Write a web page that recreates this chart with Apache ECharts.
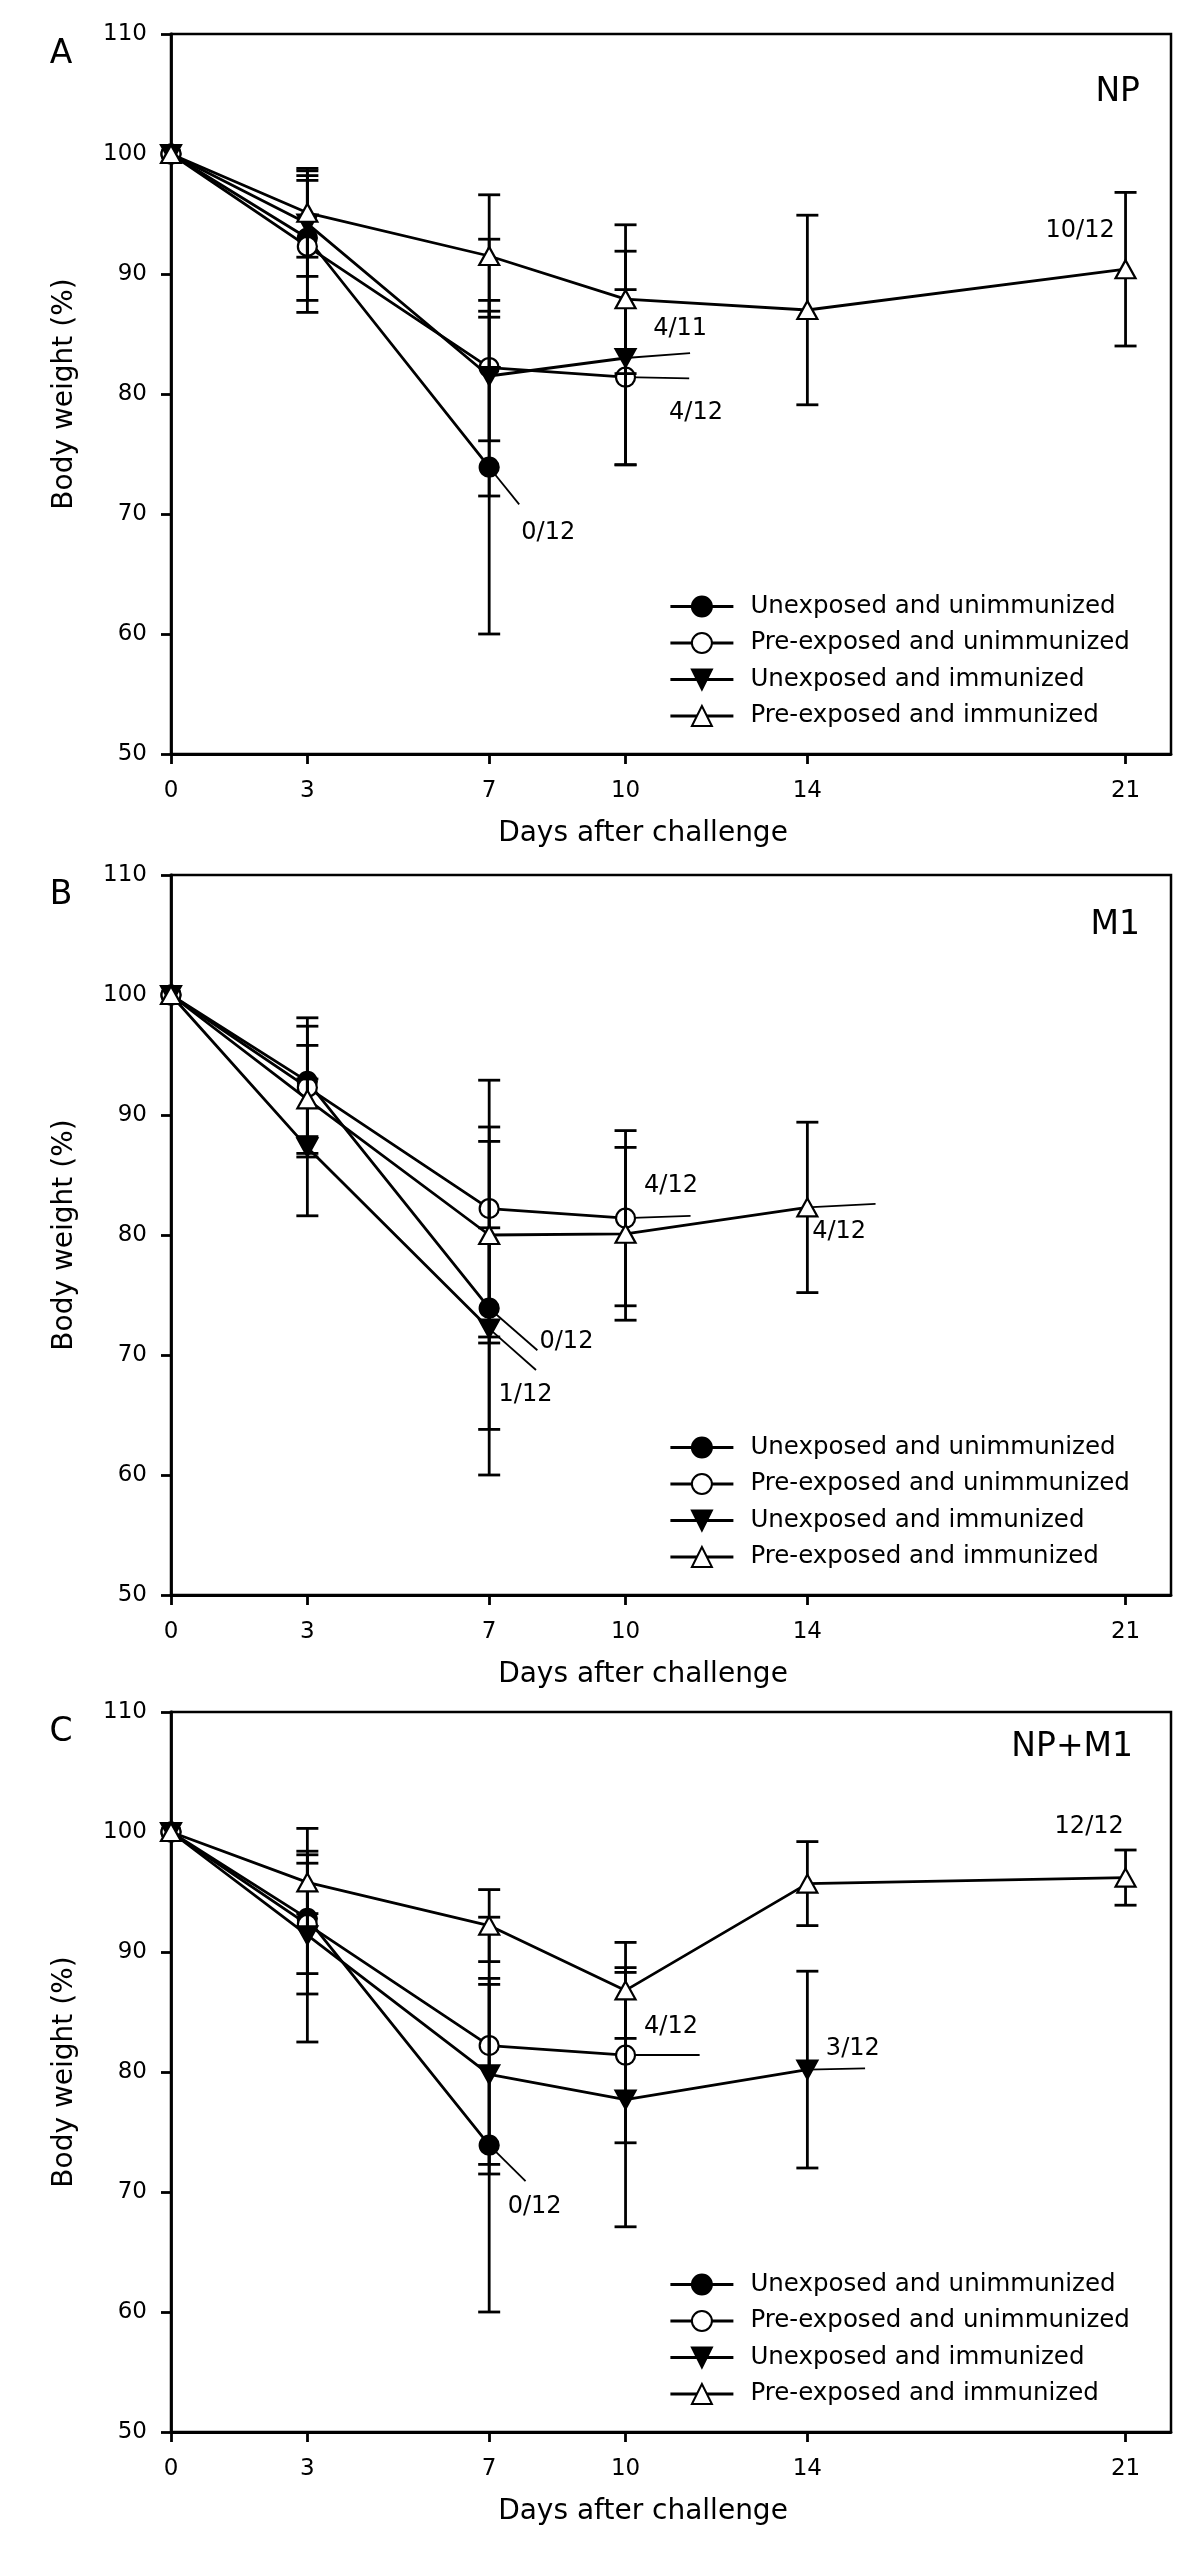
<!DOCTYPE html>
<html>
<head>
<meta charset="utf-8">
<script src="https://cdn.jsdelivr.net/npm/echarts@6/dist/echarts.min.js"></script>
<style>
  html, body { margin: 0; padding: 0; background: #fff; }
  #chart { width: 1200px; height: 2561px; }
</style>
</head>
<body>
<div id="chart"></div>
<script>
// ---------------- DATA ----------------
const days = [0, 3, 7, 10, 14, 21];
const xTickValues = [0, 3, 7, 10, 14, 21];
const groups = ['Unexposed and unimmunized', 'Pre-exposed and unimmunized', 'Unexposed and immunized', 'Pre-exposed and immunized'];
const panelNames = ['NP', 'M1', 'NP+M1'];
const panelLetters = ['A', 'B', 'C'];

// Panel A (NP): mean body weight (%) and SD
const npUnexpUnimm = [100, 93.0, 73.9];
const npUnexpUnimmSD = [0, 5.2, 13.9];
const npPreUnimm = [100, 92.3, 82.2, 81.4];
const npPreUnimmSD = [0, 5.5, 10.7, 7.3];
const npUnexpImm = [100, 94.2, 81.5, 83.0];
const npUnexpImmSD = [0, 4.4, 5.4, 8.9];
const npPreImm = [100, 95.1, 91.5, 87.9, 87.0, 90.4];
const npPreImmSD = [0, 3.7, 5.1, 6.2, 7.9, 6.4];
const npSurvival = ['0/12', '4/12', '4/11', '10/12'];

// Panel B (M1)
const m1UnexpUnimm = [100, 92.8, 73.9];
const m1UnexpUnimmSD = [0, 4.6, 13.9];
const m1PreUnimm = [100, 92.3, 82.2, 81.4];
const m1PreUnimmSD = [0, 5.8, 10.7, 7.3];
const m1UnexpImm = [100, 87.3, 72.2];
const m1UnexpImmSD = [0, 5.7, 8.4];
const m1PreImm = [100, 91.3, 80.0, 80.1, 82.3];
const m1PreImmSD = [0, 4.5, 9.0, 7.2, 7.1];
const m1Survival = ['0/12', '4/12', '1/12', '4/12'];

// Panel C (NP+M1)
const npm1UnexpUnimm = [100, 92.8, 73.9];
const npm1UnexpUnimmSD = [0, 4.6, 13.9];
const npm1PreUnimm = [100, 92.3, 82.2, 81.4];
const npm1PreUnimmSD = [0, 5.8, 10.7, 7.3];
const npm1UnexpImm = [100, 91.4, 79.8, 77.7, 80.2];
const npm1UnexpImmSD = [0, 8.9, 7.5, 10.6, 8.2];
const npm1PreImm = [100, 95.8, 92.2, 86.8, 95.7, 96.2];
const npm1PreImmSD = [0, 2.6, 3.0, 4.0, 3.5, 2.3];
const npm1Survival = ['0/12', '4/12', '3/12', '12/12'];

// ---------------- LAYOUT (annotation placement, in axis units) ----------------
const leaderEnds = [
  [[7.66, 70.8], [11.4, 81.3], [11.42, 83.4], null],
  [[8.06, 70.4], [11.43, 81.6], [8.03, 68.75], [15.5, 82.6]],
  [[7.8, 70.9], [11.63, 81.4], [15.27, 80.3], null]
];
const notePos = [
  [[8.3, 68.4], [11.55, 78.4], [11.2, 85.4], [20.0, 93.6]],
  [[8.7, 71.1], [11.0, 84.1], [7.8, 66.7], [14.7, 80.3]],
  [[8.0, 68.75], [11.0, 83.75], [15.0, 81.9], [20.2, 100.4]]
];

const panels = [
  { means: [npUnexpUnimm, npPreUnimm, npUnexpImm, npPreImm], sds: [npUnexpUnimmSD, npPreUnimmSD, npUnexpImmSD, npPreImmSD], surv: npSurvival },
  { means: [m1UnexpUnimm, m1PreUnimm, m1UnexpImm, m1PreImm], sds: [m1UnexpUnimmSD, m1PreUnimmSD, m1UnexpImmSD, m1PreImmSD], surv: m1Survival },
  { means: [npm1UnexpUnimm, npm1PreUnimm, npm1UnexpImm, npm1PreImm], sds: [npm1UnexpUnimmSD, npm1PreUnimmSD, npm1UnexpImmSD, npm1PreImmSD], surv: npm1Survival }
];

// ---------------- STYLE ----------------
const F = 'DejaVu Sans';
const panelTops = [34, 875, 1712];
const gridLeft = 171, gridWidth = 1000, gridHeight = 720;
const titlePos = [[1140, 92], [1140, 925], [1133, 1747]];
const LW = 2.8;

const symbolDefs = [
  { symbol: 'circle', size: 19, fill: '#000', z: 3 },
  { symbol: 'circle', size: 19, fill: '#fff', z: 3 },
  { symbol: 'path://M0,0L20,0L10,18Z', size: [20, 18], fill: '#000', z: 3 },
  { symbol: 'triangle', size: [20, 18], fill: '#fff', z: 6 }
];

const grids = [], xAxes = [], yAxes = [], series = [], legends = [], graphics = [];

panels.forEach((p, pi) => {
  const top = panelTops[pi];
  grids.push({ left: gridLeft, top: top, width: gridWidth, height: gridHeight, show: true, borderColor: '#000', borderWidth: 2.5, backgroundColor: 'transparent' });
  xAxes.push({
    type: 'value', gridIndex: pi, min: 0, max: 22,
    axisLine: { onZero: false, lineStyle: { color: '#000', width: LW } },
    axisTick: { customValues: xTickValues, length: 10, lineStyle: { color: '#000', width: LW } },
    axisLabel: { customValues: xTickValues, color: '#000', fontFamily: F, fontSize: 23, margin: 26 },
    splitLine: { show: false },
    name: 'Days after challenge', nameLocation: 'middle', nameGap: 66,
    nameTextStyle: { color: '#000', fontFamily: F, fontSize: 28, padding: [0, 56, 0, 0] }
  });
  yAxes.push({
    type: 'value', gridIndex: pi, min: 50, max: 110, interval: 10,
    axisLine: { show: true, lineStyle: { color: '#000', width: LW } },
    axisTick: { show: true, length: 10, lineStyle: { color: '#000', width: LW } },
    axisLabel: { color: '#000', fontFamily: F, fontSize: 23, margin: 24 },
    splitLine: { show: false },
    name: 'Body weight (%)', nameLocation: 'middle', nameGap: 92, nameRotate: 90,
    nameTextStyle: { color: '#000', fontFamily: F, fontSize: 28 }
  });

  const errRows = [];
  p.means.forEach((m, gi) => {
    const sd = p.sds[gi];
    const sdef = symbolDefs[gi];
    series.push({
      name: groups[gi], type: 'line', xAxisIndex: pi, yAxisIndex: pi, z: sdef.z,
      data: m.map((v, i) => [days[i], v]),
      symbol: sdef.symbol, symbolSize: sdef.size, showAllSymbol: true,
      itemStyle: { color: sdef.fill, borderColor: '#000', borderWidth: 2.2 },
      lineStyle: { color: '#000', width: LW },
      emphasis: { disabled: true }, silent: true
    });
    m.forEach((v, i) => { if (sd[i] > 0) errRows.push([days[i], v - sd[i], v + sd[i]]); });
    const end = leaderEnds[pi][gi];
    if (end) {
      const last = m.length - 1;
      series.push({
        name: 'leader', type: 'lines', coordinateSystem: 'cartesian2d', xAxisIndex: pi, yAxisIndex: pi, z: 2,
        silent: true, polyline: false,
        lineStyle: { color: '#000', width: 1.8, opacity: 1, curveness: 0 },
        data: [{ coords: [[days[last], m[last]], end] }]
      });
    }
  });
  series.push({
    name: 'errorbars', type: 'custom', xAxisIndex: pi, yAxisIndex: pi, z: 4, silent: true,
    encode: { x: 0, y: [1, 2] },
    data: errRows,
    renderItem: function (params, api) {
      const lo = api.coord([api.value(0), api.value(1)]);
      const hi = api.coord([api.value(0), api.value(2)]);
      const w = 11;
      const st = { stroke: '#000', lineWidth: LW };
      return { type: 'group', children: [
        { type: 'line', shape: { x1: lo[0], y1: lo[1], x2: hi[0], y2: hi[1] }, style: st },
        { type: 'line', shape: { x1: lo[0] - w, y1: lo[1], x2: lo[0] + w, y2: lo[1] }, style: st },
        { type: 'line', shape: { x1: hi[0] - w, y1: hi[1], x2: hi[0] + w, y2: hi[1] }, style: st }
      ] };
    }
  });
  const noteData = [];
  notePos[pi].forEach((pos, gi) => { if (pos) noteData.push({ value: [pos[0], pos[1]], name: p.surv[gi] }); });
  series.push({
    name: 'survival', type: 'custom', xAxisIndex: pi, yAxisIndex: pi, z: 7, silent: true,
    data: noteData,
    renderItem: function (params, api) {
      const c = api.coord([api.value(0), api.value(1)]);
      return { type: 'text', x: c[0], y: c[1], style: { text: noteData[params.dataIndex].name, fill: '#000', font: '24px "' + F + '"', align: 'center', verticalAlign: 'middle' } };
    }
  });

  legends.push({
    orient: 'vertical', left: 664, top: top + 555,
    itemWidth: 63, itemHeight: 25, itemGap: 11.5,
    textStyle: { color: '#000', fontFamily: F, fontSize: 24.5, padding: [0, 0, 0, 12] },
    lineStyle: { color: '#000', width: LW },
    selectedMode: false,
    data: groups
  });

  graphics.push({ type: 'text', x: 61, y: top + 20, style: { text: panelLetters[pi], fill: '#000', font: '33px "' + F + '"', align: 'center', verticalAlign: 'middle' } });
  graphics.push({ type: 'text', x: titlePos[pi][0], y: titlePos[pi][1], style: { text: panelNames[pi], fill: '#000', font: '33px "' + F + '"', align: 'right', verticalAlign: 'middle' } });
});

const chart = echarts.init(document.getElementById('chart'), null, { renderer: 'canvas' });
chart.setOption({
  animation: false,
  backgroundColor: '#fff',
  grid: grids, xAxis: xAxes, yAxis: yAxes,
  legend: legends,
  series: series,
  graphic: graphics
});
</script>
</body>
</html>
